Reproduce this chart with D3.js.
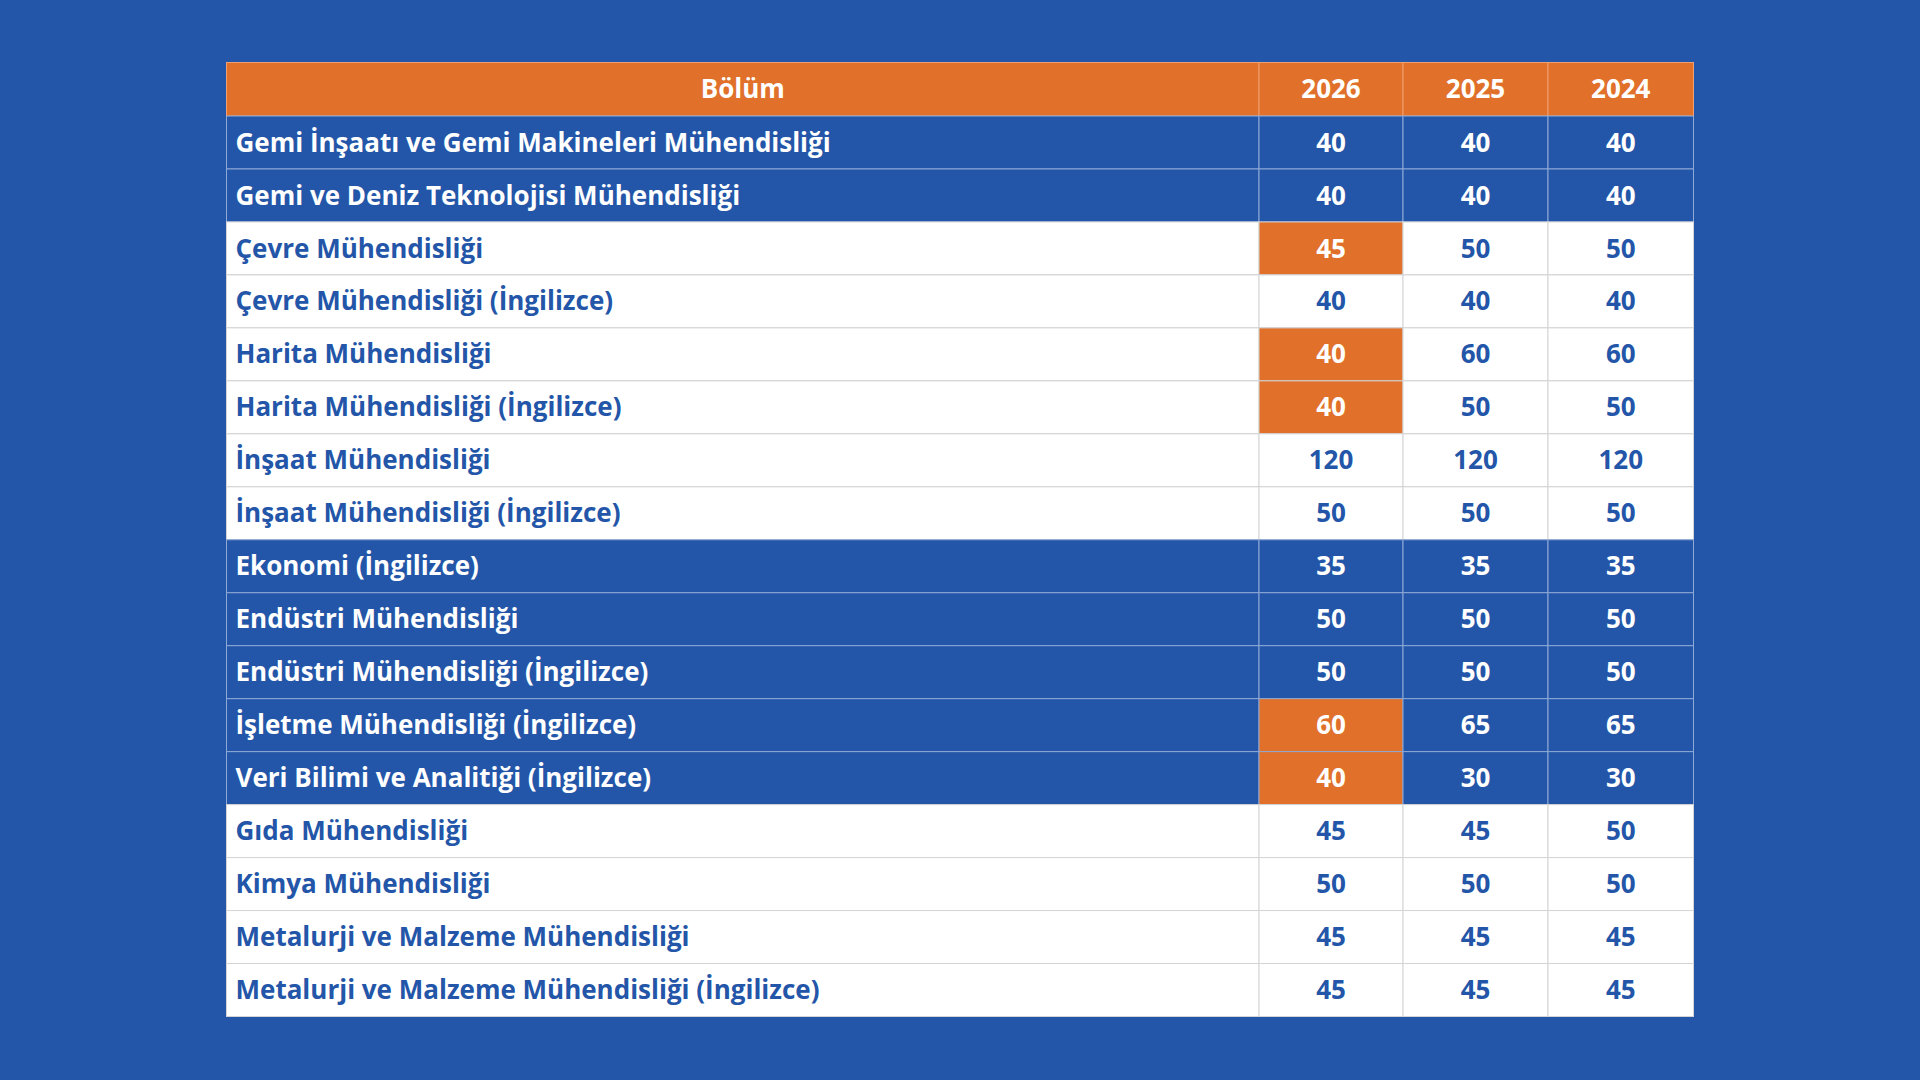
<!DOCTYPE html>
<html><head><meta charset="utf-8">
<script src="https://cdn.jsdelivr.net/npm/d3@7"></script>
<style>body{margin:0;background:#2356a8;}</style>
</head><body>
<svg id="chart" width="1920" height="1080"></svg>
<script>
// data
var years = ["2026", "2025", "2024"];
var departments = [
  "Gemi İnşaatı ve Gemi Makineleri Mühendisliği",
  "Gemi ve Deniz Teknolojisi Mühendisliği",
  "Çevre Mühendisliği",
  "Çevre Mühendisliği (İngilizce)",
  "Harita Mühendisliği",
  "Harita Mühendisliği (İngilizce)",
  "İnşaat Mühendisliği",
  "İnşaat Mühendisliği (İngilizce)",
  "Ekonomi (İngilizce)",
  "Endüstri Mühendisliği",
  "Endüstri Mühendisliği (İngilizce)",
  "İşletme Mühendisliği (İngilizce)",
  "Veri Bilimi ve Analitiği (İngilizce)",
  "Gıda Mühendisliği",
  "Kimya Mühendisliği",
  "Metalurji ve Malzeme Mühendisliği",
  "Metalurji ve Malzeme Mühendisliği (İngilizce)"
];
var q2026 = [40, 40, 45, 40, 40, 40, 120, 50, 35, 50, 50, 60, 40, 45, 50, 45, 45];
var q2025 = [40, 40, 50, 40, 60, 50, 120, 50, 35, 50, 50, 65, 30, 45, 50, 45, 45];
var q2024 = [40, 40, 50, 40, 60, 50, 120, 50, 35, 50, 50, 65, 30, 50, 50, 45, 45];
// which rows sit in a blue band
var blueRows = [true, true, false, false, false, false, false, false, true, true, true, true, true, false, false, false, false];
// 2026 cells highlighted in orange
var highlight = [false, false, true, false, true, true, false, false, false, false, false, true, true, false, false, false, false];

var blue = "#2356a8", orange = "#e0702a", white = "#ffffff";
var svg = d3.select("#chart");
var tLeft = 226.5, tRight = 1693.5, tTop = 62.5, headerH = 53.5, tBottom = 1016.5;

var cols = ["name"].concat(years);
var colEdges = [tLeft, 1259, 1403, 1548, tRight];
var x0 = function(i) { return colEdges[i]; };
var y = d3.scaleBand().domain(d3.range(departments.length)).range([tTop + headerH, tBottom]);

var font = "'Open Sans', sans-serif";
var values = [q2026, q2025, q2024];

// header
var hdr = svg.append("g");
cols.forEach(function(c, i) {
  hdr.append("rect").attr("x", x0(i)).attr("y", tTop).attr("width", x0(i+1) - x0(i)).attr("height", headerH)
    .attr("fill", orange).attr("stroke", "#f0a070").attr("stroke-width", 1);
  hdr.append("text").attr("x", (x0(i) + x0(i+1)) / 2).attr("y", tTop + headerH / 2).attr("dy", "0.35em")
    .attr("text-anchor", "middle").attr("fill", white).attr("font-family", font).attr("font-weight", 700)
    .attr("font-size", 26).text(i === 0 ? "Bölüm" : c);
});

var rows = svg.append("g").selectAll("g").data(departments).enter().append("g")
  .attr("transform", function(d, i) { return "translate(0," + y(i) + ")"; });

rows.each(function(d, r) {
  var g = d3.select(this);
  var isBlue = blueRows[r];
  cols.forEach(function(c, i) {
    var v = i > 0 ? values[i-1][r] : null;
    var hl = i === 1 && highlight[r];
    var fill = hl ? orange : (isBlue ? blue : white);
    g.append("rect").attr("x", x0(i)).attr("y", 0).attr("width", x0(i+1) - x0(i)).attr("height", y.bandwidth())
      .attr("fill", fill).attr("stroke", isBlue ? "#8fa9d6" : "#d4d4d4").attr("stroke-width", 1);
    g.append("text")
      .attr("x", i === 0 ? x0(0) + 9 : (x0(i) + x0(i+1)) / 2)
      .attr("y", y.bandwidth() / 2).attr("dy", "0.35em")
      .attr("text-anchor", i === 0 ? "start" : "middle")
      .attr("fill", (isBlue || hl) ? white : blue)
      .attr("font-family", font).attr("font-weight", 700).attr("font-size", 26)
      .text(i === 0 ? d : v);
  });
});
</script>
</body></html>
